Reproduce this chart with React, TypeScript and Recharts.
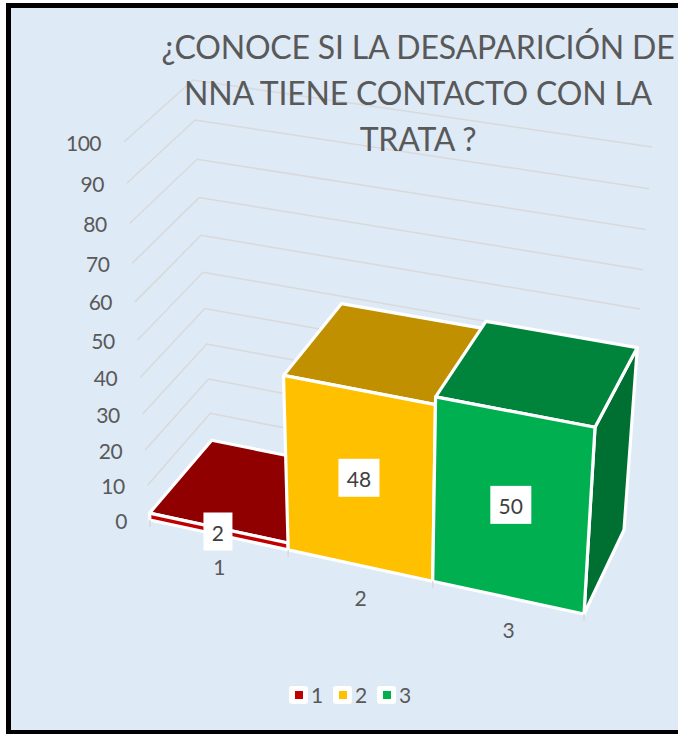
import React from "react";
import { BarChart, Bar, XAxis, YAxis, CartesianGrid, LabelList, Legend } from "recharts";

const categories = ["1", "2", "3"];
const values = [2, 48, 50];
const yTicks = [0, 10, 20, 30, 40, 50, 60, 70, 80, 90, 100];
const frontColors = ["#C00000", "#FFC000", "#00B050"];
const topColors = ["#900000", "#C09000", "#00843C"];
const sideColors = ["#800000", "#A07800", "#006F32"];
const titleLines = ["¿CONOCE SI LA DESAPARICIÓN DE", "NNA TIENE CONTACTO CON LA", "TRATA ?"];

const data = categories.map((category, i) => ({ category, value: values[i] }));

const FONT = "Lato, 'Open Sans', sans-serif";
const TEXT = "#595959";
const GRID = "#D9D9D9";

// flat plot rectangle handed to Recharts, then projected on the 3D box
const L = 100, T = 100, W = 300, H = 300;

type P = [number, number];
const FLB: P = [150, 520], FRB: P = [584, 614], BLB: P = [212, 447], BRB: P = [624, 530];
const FLT: P = [124, 142], FRT: P = [607, 222], BLT: P = [193, 80], BRT: P = [652, 147];

const warp = (t: number, k: number) => t / (t + k * (1 - t));
const mix = (a: P, b: P, t: number): P => [a[0] + (b[0] - a[0]) * t, a[1] + (b[1] - a[1]) * t];

function project(px: number, py: number, z: number): P {
  const u = warp((px - L) / W, 1.07);
  const v = warp((T + H - py) / H, 1.1);
  const front = mix(mix(FLB, FRB, u), mix(FLT, FRT, u), v);
  const back = mix(mix(BLB, BRB, u), mix(BLT, BRT, u), v);
  return mix(front, back, z);
}
const pts = (list: P[]) => list.map((p) => `${p[0].toFixed(1)},${p[1].toFixed(1)}`).join(" ");

function Box3D(props: any) {
  const { x, y, width, height, index } = props;
  const xr = x + width, yb = y + height;
  const common = { stroke: "#FFFFFF", strokeWidth: 3.2, strokeLinejoin: "round" as const };
  return (
    <g>
      <polygon points={pts([project(xr, y, 0), project(xr, y, 1), project(xr, yb, 1), project(xr, yb, 0)])} fill={sideColors[index]} {...common} />
      <polygon points={pts([project(x, y, 0), project(xr, y, 0), project(xr, y, 1), project(x, y, 1)])} fill={topColors[index]} {...common} />
      <polygon points={pts([project(x, y, 0), project(xr, y, 0), project(xr, yb, 0), project(x, yb, 0)])} fill={frontColors[index]} {...common} />
    </g>
  );
}

function ValueLabel(props: any) {
  const { x, y, width, height, value } = props;
  const xr = x + width, yb = y + height;
  const q = [project(x, y, 0), project(xr, y, 0), project(xr, yb, 0), project(x, yb, 0)];
  const cx = q.reduce((s, p) => s + p[0], 0) / 4 - 1;
  const cy = q.reduce((s, p) => s + p[1], 0) / 4;
  const w = String(value).length > 1 ? 41 : 29;
  return (
    <g>
      <rect x={cx - w / 2} y={cy - 19} width={w} height={38} fill="#FFFFFF" />
      <text x={cx} y={cy + 1} textAnchor="middle" dominantBaseline="central" fontFamily={FONT} fontSize={21} fill="#404040">
        {value}
      </text>
    </g>
  );
}

function YTick(props: any) {
  const { y, payload } = props;
  const p = project(L, y, 0);
  return (
    <text x={p[0] - 23} y={p[1]} textAnchor="end" dominantBaseline="central" fontFamily={FONT} fontSize={21} letterSpacing={-0.5} fill={TEXT}>
      {payload.value}
    </text>
  );
}

function XTick(props: any) {
  const { x, payload, index } = props;
  const half = W / 6;
  const bottom = T + H;
  const mid = project(x, bottom, 0);
  const right = project(x + half, bottom, 0);
  const left = project(x - half, bottom, 0);
  return (
    <g>
      {index === 0 && <line x1={left[0]} y1={left[1]} x2={left[0]} y2={left[1] + 7} stroke={GRID} strokeWidth={1.5} />}
      <line x1={right[0]} y1={right[1]} x2={right[0]} y2={right[1] + 7} stroke={GRID} strokeWidth={1.5} />
      <text x={mid[0] + 1} y={mid[1] + 32} textAnchor="middle" dominantBaseline="central" fontFamily={FONT} fontSize={21} fill={TEXT}>
        {payload.value}
      </text>
    </g>
  );
}

function GridLine(props: any) {
  const { y1, key } = props;
  const a = project(L, y1, 0), b = project(L, y1, 1), c = project(L + W, y1, 1);
  return <polyline key={key ?? y1} points={pts([a, b, c])} fill="none" stroke={GRID} strokeWidth={1.5} />;
}

function LegendBlock() {
  return (
    <div style={{ position: "relative", width: 678, height: 30 }}>
      {categories.map((c, i) => (
        <div key={c} style={{ position: "absolute", left: 289 + i * 44, top: 0, height: 18 }}>
          <div style={{ position: "absolute", left: 0, top: 0, width: 19, height: 18, background: "#FFFFFF", borderRadius: 3 }}>
            <div style={{ position: "absolute", left: 5.5, top: 5, width: 8, height: 8, background: frontColors[i] }} />
          </div>
          <span style={{ position: "absolute", left: 22, top: -3, fontFamily: FONT, fontSize: 21, lineHeight: "24px", color: TEXT }}>{c}</span>
        </div>
      ))}
    </div>
  );
}

export default function App() {
  return (
    <div style={{ position: "fixed", left: 0, top: 0, width: 678, height: 734, background: "#FFFFFF", overflow: "hidden" }}>
      <div
        style={{
          position: "absolute", left: 6, top: 3, width: 672, height: 731, boxSizing: "border-box",
          background: "#DEEAF6", borderLeft: "5px solid #000", borderTop: "5px solid #000", borderBottom: "4px solid #000",
        }}
      />
      <div style={{ position: "absolute", left: 0, top: 0 }}>
        <BarChart
          width={678}
          height={734}
          data={data}
          barCategoryGap={0}
          barGap={0}
          margin={{ left: L - 1, top: T, right: 678 - L - W, bottom: 734 - T - H - 1 }}
        >
          <CartesianGrid vertical={false} horizontal={GridLine as any} />
          <XAxis dataKey="category" type="category" height={1} interval={0} axisLine={false} tickLine={false} tick={XTick as any} />
          <YAxis type="number" domain={[0, 100]} ticks={yTicks} width={1} interval={0} axisLine={false} tickLine={false} tick={YTick as any} />
          <Legend
            layout="horizontal"
            align="center"
            verticalAlign="middle"
            content={LegendBlock as any}
            wrapperStyle={{ left: 0, top: 686, width: 678, height: 30 }}
          />
          <Bar dataKey="value" isAnimationActive={false} shape={Box3D as any}>
            <LabelList dataKey="value" content={ValueLabel as any} />
          </Bar>
        </BarChart>
      </div>
      {titleLines.map((line, i) => (
        <div
          key={line}
          style={{
            position: "absolute", left: 118, width: 600, top: 24 + i * 46, textAlign: "center", whiteSpace: "nowrap",
            fontFamily: FONT, fontSize: 32, letterSpacing: -0.2, lineHeight: "46px", color: TEXT,
          }}
        >
          {line}
        </div>
      ))}
    </div>
  );
}
